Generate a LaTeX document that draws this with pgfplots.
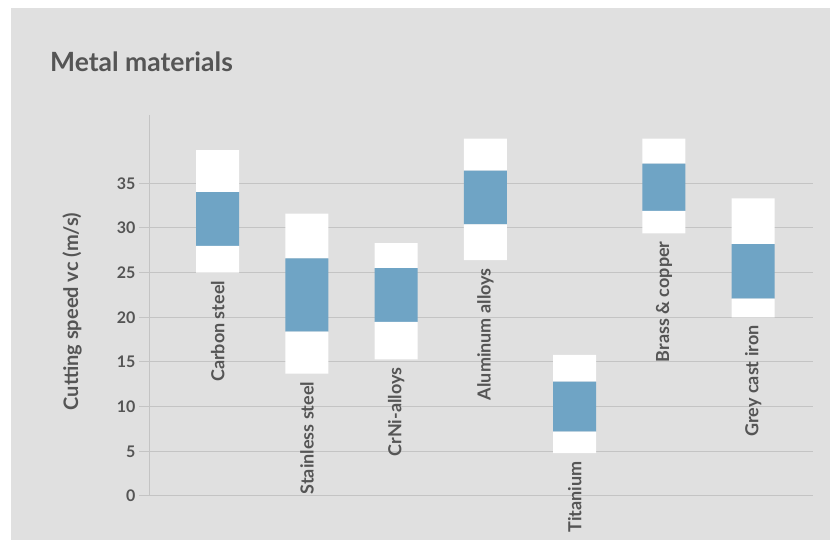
\documentclass[border=0pt]{standalone}
\usepackage{fontspec}
\setmainfont{Lato}
\usepackage{pgfplots}
\usepackage{pgfplotstable}
\pgfplotsset{compat=1.18}
\definecolor{panel}{HTML}{E0E0E0}
\definecolor{barblue}{HTML}{6FA4C5}
\definecolor{txt}{HTML}{555555}
\definecolor{gridc}{HTML}{C4C4C4}

\pgfplotstableread{
x lo blo bhi hi label
0 25.0 28.0 34.0 38.7 {Carbon steel}
1 13.7 18.4 26.6 31.6 {Stainless steel}
2 15.3 19.5 25.5 28.3 {CrNi-alloys}
3 26.4 30.4 36.4 40.0 {Aluminum alloys}
4 4.8 7.2 12.8 15.8 {Titanium}
5 29.4 31.9 37.2 40.0 {Brass \& copper}
6 20.0 22.1 28.2 33.3 {Grey cast iron}
}\data

\pgfplotsset{
  commonframe/.style={
    at={(149pt,44pt)}, anchor=south west, scale only axis,
    width=664pt, height=381pt,
    xmin=-0.77, xmax=6.67, ymin=0, ymax=42.64,
    clip=false,
  }
}

\begin{document}
\begin{tikzpicture}[x=1pt,y=1pt]
\useasboundingbox (0,0) rectangle (830,540);
\fill[white] (0,0) rectangle (830,540);
\fill[panel] (11,0) rectangle (830,532);
\node[anchor=base west, font=\bfseries\fontsize{26.5}{30}\selectfont, text=txt, inner sep=0pt] at (50,468) {Metal materials};
\begin{axis}[
  commonframe,
  ybar stacked, bar width=43pt,
  axis lines=left,
  axis line style={-, draw=gridc, line width=1pt},
  ytick={0,5,...,35}, ymajorgrids,
  grid style={gridc, line width=1pt},
  xtick=\empty,
  major tick length=10pt, tick align=outside,
  ytick style={gridc, line width=1pt},
  yticklabel style={font=\bfseries\fontsize{16}{18}\selectfont, text=txt},
  /pgf/number format/assume math mode=true,
  ylabel={Cutting speed vc (m/s)},
  every axis y label/.style={at={(axis description cs:0,0.5)}, xshift=-77pt, yshift=-6pt, rotate=90, anchor=center, font=\bfseries\fontsize{20}{22}\selectfont, text=txt},
]
\addplot[draw=none, fill=none] table[x=x, y=lo]{\data};
\addplot[fill=white, draw=none] table[x=x, y expr=\thisrow{blo}-\thisrow{lo}]{\data};
\addplot[fill=barblue, draw=none] table[x=x, y expr=\thisrow{bhi}-\thisrow{blo}]{\data};
\addplot[fill=white, draw=none] table[x=x, y expr=\thisrow{hi}-\thisrow{bhi}]{\data};
\end{axis}
\begin{axis}[commonframe, hide axis]
\addplot[only marks, mark=none, nodes near coords, point meta=explicit symbolic,
  every node near coord/.style={rotate=90, anchor=east, inner xsep=8pt, inner ysep=0pt, font=\bfseries\fontsize{18}{20}\selectfont, text=txt}]
  table[x=x, y=lo, meta=label]{\data};
\end{axis}
\end{tikzpicture}
\end{document}
